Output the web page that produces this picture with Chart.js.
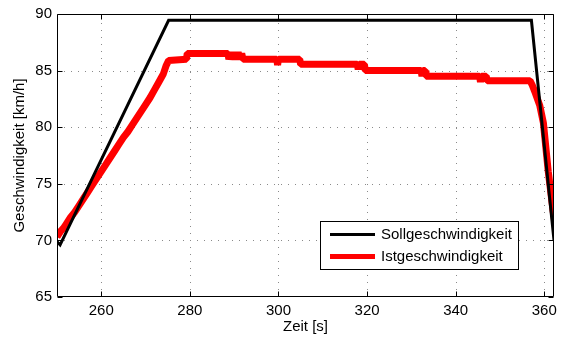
<!DOCTYPE html>
<html>
<head>
<meta charset="utf-8">
<script src="https://cdn.jsdelivr.net/npm/chart.js@4"></script>
<style>
  html, body { margin: 0; padding: 0; background: #fff; }
  #c { display: block; }
</style>
</head>
<body>
<canvas id="c" width="565" height="340"></canvas>
<script>
// ---- data ----
const sollZeit = [250.0, 250.7, 275.2, 357.1, 362.2];
const sollWert = [69.9, 69.6, 89.45, 89.45, 70.0];

const istZeit = [250.0, 250.8, 251.5, 252, 253, 254, 255, 256, 257, 258, 259, 260, 261, 262, 263, 264, 265, 266, 267, 268, 269, 270, 271, 272, 273, 274, 274.6, 275.2,
  279.2, 279.4, 288.6, 288.8, 289.2, 289.6, 290.0, 290.4, 290.9, 291.3, 291.7, 292.0,
  299.6, 299.8, 300.0, 304.8, 305.0, 317.8, 318.0, 318.2, 319.4, 319.6,
  332.2, 332.4, 332.6, 333.1, 333.3, 345.4, 345.6, 345.8, 346.9, 347.1, 356.8,
  357.3, 358.0, 359.0, 359.8, 360.9, 362.0, 362.4];
const istWert = [70.3, 70.8, 71.1, 71.4, 72.0, 72.5, 73.1, 73.7, 74.3, 74.9, 75.5, 76.1, 76.7, 77.3, 77.9, 78.5, 79.1, 79.6, 80.2, 80.8, 81.4, 82.0, 82.6, 83.3, 84.0, 84.7, 85.4, 85.9,
  86.0, 86.5, 86.5, 86.0, 86.6, 86.0, 86.6, 86.0, 86.6, 86.0, 86.5, 86.0,
  86.0, 85.5, 86.0, 86.0, 85.55, 85.55, 85.1, 85.55, 85.55, 85.0,
  85.0, 84.5, 85.0, 85.0, 84.5, 84.5, 84.0, 84.5, 84.5, 84.1, 84.1,
  83.7, 83.0, 81.9, 80.4, 76.1, 72.6, 71.6];

const xTicks = [260, 280, 300, 320, 340, 360];
const yTicks = [65, 70, 75, 80, 85, 90];
const seriesNames = ['Sollgeschwindigkeit', 'Istgeschwindigkeit'];
const seriesColors = ['#000000', '#ff0000'];

const FONT = 'Liberation Sans, Arial, Helvetica, sans-serif';

const toPts = (xs, ys) => xs.map((x, i) => ({x: x, y: ys[i]}));

const framePlugin = {
  id: 'frame',
  beforeDatasetsDraw(chart) {
    const {ctx, chartArea: a, scales: {x, y}} = chart;
    ctx.save();
    ctx.strokeStyle = '#8a8a8a';
    ctx.lineWidth = 1;
    ctx.setLineDash([1, 6]);
    ctx.beginPath();
    xTicks.forEach(v => {
      const px = Math.round(x.getPixelForValue(v)) + 0.5;
      ctx.moveTo(px, a.bottom); ctx.lineTo(px, a.top);
    });
    yTicks.forEach(v => {
      if (v === yTicks[0] || v === yTicks[yTicks.length - 1]) return;
      const py = Math.round(y.getPixelForValue(v)) + 0.5;
      ctx.moveTo(a.left, py); ctx.lineTo(a.right, py);
    });
    ctx.stroke();
    ctx.restore();
  },
  afterDraw(chart) {
    const {ctx, chartArea: a, scales: {x, y}} = chart;
    ctx.save();
    ctx.strokeStyle = '#000';
    ctx.lineWidth = 1;
    const L = Math.round(a.left) + 0.5, R = Math.round(a.right) - 0.5;
    const T = Math.round(a.top) + 0.5, B = Math.round(a.bottom) - 0.5;
    ctx.beginPath();
    ctx.rect(L, T, R - L, B - T);
    ctx.stroke();
    const tl = 5;
    ctx.beginPath();
    xTicks.forEach(v => {
      const px = Math.round(x.getPixelForValue(v)) + 0.5;
      ctx.moveTo(px, B); ctx.lineTo(px, B - tl);
      ctx.moveTo(px, T); ctx.lineTo(px, T + tl);
    });
    yTicks.forEach(v => {
      const py = Math.round(y.getPixelForValue(v)) + 0.5;
      ctx.moveTo(L, py); ctx.lineTo(L + tl, py);
      ctx.moveTo(R, py); ctx.lineTo(R - tl, py);
    });
    ctx.stroke();

    // legend box
    const bx = 320.5, by = 221.5, bw = 198, bh = 48;
    ctx.fillStyle = '#fff';
    ctx.fillRect(bx, by, bw, bh);
    ctx.strokeRect(bx, by, bw, bh);
    const rows = [234.5, 256.5];
    const widths = [3, 5];
    chart.data.datasets.forEach((ds, i) => {
      ctx.strokeStyle = ds.borderColor;
      ctx.lineWidth = widths[i];
      ctx.beginPath();
      ctx.moveTo(330, rows[i]);
      ctx.lineTo(375, rows[i]);
      ctx.stroke();
      ctx.fillStyle = '#000';
      ctx.font = '15px ' + FONT;
      ctx.textBaseline = 'middle';
      ctx.textAlign = 'left';
      ctx.fillText(ds.label, 381, rows[i]);
    });
    ctx.restore();
  }
};

new Chart(document.getElementById('c'), {
  type: 'line',
  data: {
    datasets: [
      {
        label: seriesNames[0],
        data: toPts(sollZeit, sollWert),
        borderColor: seriesColors[0],
        borderWidth: 3,
        pointRadius: 0,
        tension: 0,
        order: 1
      },
      {
        label: seriesNames[1],
        data: toPts(istZeit, istWert),
        borderColor: seriesColors[1],
        borderWidth: 7,
        pointRadius: 0,
        tension: 0,
        borderJoinStyle: 'bevel',
        order: 2
      }
    ]
  },
  options: {
    responsive: false,
    animation: false,
    devicePixelRatio: 1,
    layout: { padding: { top: 10, right: 11, left: 0, bottom: 0 } },
    plugins: {
      legend: { display: false },
      tooltip: { enabled: false }
    },
    scales: {
      x: {
        type: 'linear',
        min: 250,
        max: 362.2,
        afterBuildTicks: s => { s.ticks = xTicks.map(v => ({value: v})); },
        afterFit: s => { s.height = 43; },
        ticks: { color: '#000', font: { family: FONT, size: 15 }, padding: 5, maxRotation: 0 },
        grid: { display: false, drawTicks: false },
        border: { display: false },
        title: { display: true, text: 'Zeit [s]', color: '#000', font: { family: FONT, size: 15 }, padding: { top: 0, bottom: 4 } }
      },
      y: {
        min: 65,
        max: 90,
        afterBuildTicks: s => { s.ticks = yTicks.map(v => ({value: v})); },
        afterFit: s => { s.width = 57; },
        ticks: { color: '#000', font: { family: FONT, size: 15 }, padding: 5 },
        grid: { display: false, drawTicks: false },
        border: { display: false },
        title: { display: true, text: 'Geschwindigkeit [km/h]', color: '#000', font: { family: FONT, size: 15 }, padding: { top: 10.5, bottom: 0 } }
      }
    }
  },
  plugins: [framePlugin]
});
</script>
</body>
</html>
